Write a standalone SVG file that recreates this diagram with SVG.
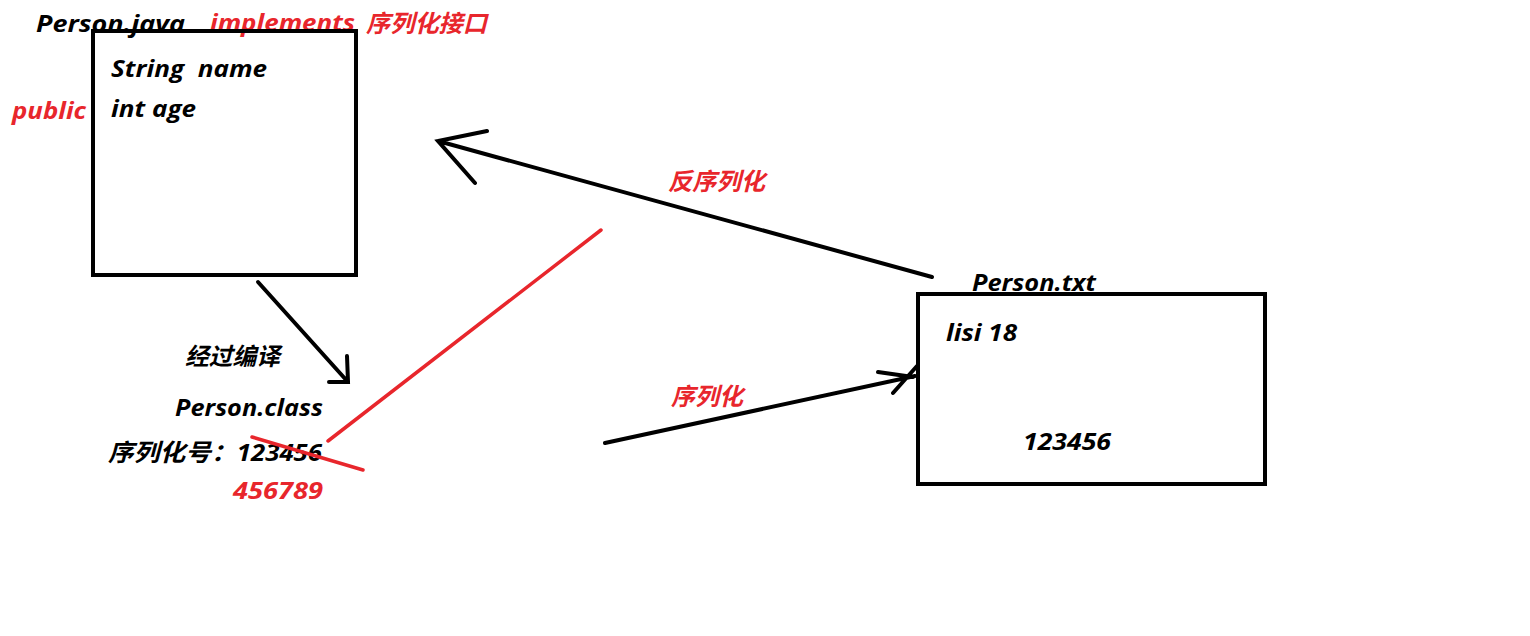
<svg xmlns="http://www.w3.org/2000/svg" width="1530" height="636" viewBox="0 0 1530 636">
<style>
.t{font-family:"Open Sans","Noto Sans","Noto Sans CJK SC",sans-serif;font-weight:bold;font-style:italic;font-size:24px;fill:#000}
.r{fill:#e8262c}
.box{fill:none;stroke:#000;stroke-width:4}
.ln{fill:none;stroke:#000;stroke-width:4;stroke-linecap:round}
.rl{fill:none;stroke:#e8262c;stroke-width:3.5;stroke-linecap:round}
</style>
<rect width="1530" height="636" fill="#fff"/>
<g id="person-java">
<text class="t" x="36" y="32" textLength="149" lengthAdjust="spacingAndGlyphs">Person.java</text>
<text class="t r" x="210" y="31" textLength="145" lengthAdjust="spacingAndGlyphs">implements</text>
<text class="t r" x="366" y="32" textLength="121" lengthAdjust="spacingAndGlyphs">序列化接口</text>
<rect class="box" x="93" y="31" width="263" height="244"/>
<text class="t" x="111" y="77" textLength="156" lengthAdjust="spacingAndGlyphs" xml:space="preserve">String  name</text>
<text class="t" x="111" y="117" textLength="85" lengthAdjust="spacingAndGlyphs">int age</text>
<text class="t r" x="12" y="119" textLength="74" lengthAdjust="spacingAndGlyphs">public</text>
</g>
<g id="person-class">
<text class="t" x="185" y="365" textLength="95" lengthAdjust="spacingAndGlyphs">经过编译</text>
<text class="t" x="175" y="416" textLength="148" lengthAdjust="spacingAndGlyphs">Person.class</text>
<text class="t" x="108" y="461" textLength="214" lengthAdjust="spacingAndGlyphs">序列化号：123456</text>
<text class="t r" x="233" y="499" textLength="90" lengthAdjust="spacingAndGlyphs">456789</text>
</g>
<g id="person-txt">
<text class="t" x="972" y="291" textLength="124" lengthAdjust="spacingAndGlyphs">Person.txt</text>
<rect class="box" x="918" y="294" width="347" height="190"/>
<text class="t" x="946" y="341" textLength="71" lengthAdjust="spacingAndGlyphs">lisi 18</text>
<text class="t" x="1023" y="450" textLength="88" lengthAdjust="spacingAndGlyphs">123456</text>
</g>
<g id="labels">
<text class="t r" x="668" y="190" textLength="97" lengthAdjust="spacingAndGlyphs">反序列化</text>
<text class="t r" x="671" y="405" textLength="72" lengthAdjust="spacingAndGlyphs">序列化</text>
</g>
<g id="connectors">
<path class="ln" d="M258,282 L348,382 M347,356 L348,382 L329,382"/>
<path class="ln" d="M932,277 L438,141 M487,131 L438,141 L475,183"/>
<path class="ln" d="M605,443 L915,376 M878,372 L913,377 M893,393 L917,366"/>
<path class="rl" d="M328,441 L601,230"/>
<path class="rl" d="M252,437 L363,470"/>
</g>
</svg>
